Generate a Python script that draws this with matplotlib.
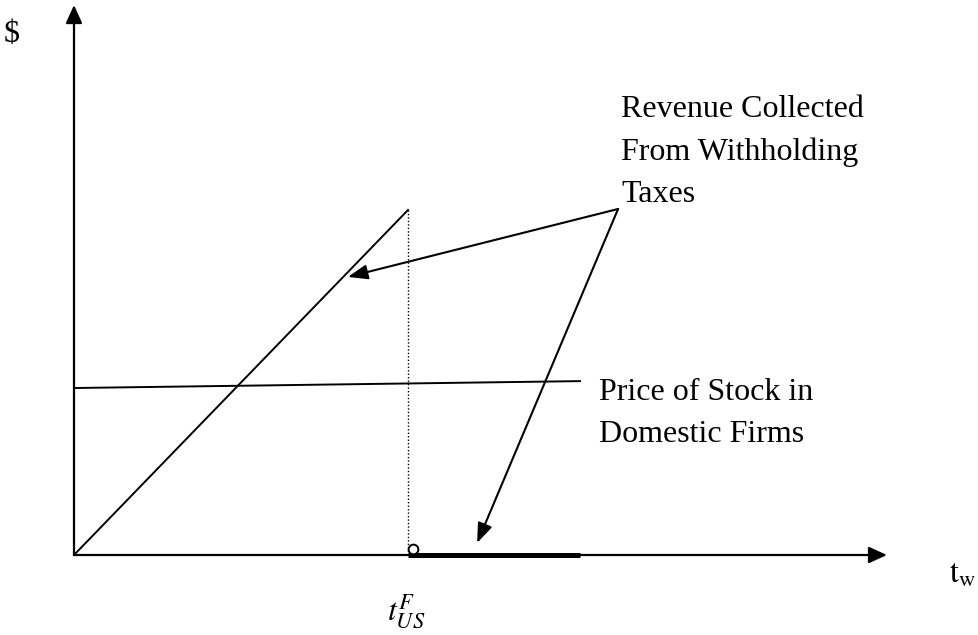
import matplotlib.pyplot as plt

# data units: t_US^F = 1 on x, top of revenue line = 1 on y
t_us = 1.0
rev_x = [0.0, t_us]
rev_y = [0.0, 1.0]
price_x = [0.0, 1.515]
price_y = [0.484, 0.504]
thick_x = [t_us, 1.515]
x_end = 2.434
y_end = 1.594
note_from = (1.629, 1.003)
note_tips = [(0.820, 0.806), (1.207, 0.035)]
rev_lines = ["Revenue Collected", "From Withholding", "Taxes"]
rev_ys = [1.270, 1.145, 1.023]
price_lines = ["Price of Stock in", "Domestic Firms"]
price_ys = [0.449, 0.328]

plt.rcParams['font.family'] = ['Liberation Serif', 'DejaVu Serif']
plt.rcParams['mathtext.fontset'] = 'stix'

fig = plt.figure(figsize=(9.79, 6.35), dpi=100)
ax = fig.add_axes([0, 0, 1, 1])
ax.set_xlim(-74 / 334, (979 - 74) / 334)
ax.set_ylim(-(635 - 555) / 345, 555 / 345)
ax.axis('off')

# axes with arrow heads
head = '-|>,head_length=1.1,head_width=0.5'
ax.annotate('', xy=(x_end, 0), xytext=(0, 0),
            arrowprops=dict(arrowstyle=head, lw=1.6, color='black', shrinkA=0, shrinkB=0))
ax.annotate('', xy=(0, y_end), xytext=(0, 0),
            arrowprops=dict(arrowstyle=head, lw=1.6, color='black', shrinkA=0, shrinkB=0))

ax.plot(rev_x, rev_y, color='black', lw=1.4)
ax.plot([t_us, t_us], [0, rev_y[1]], color='black', lw=1.0, ls=(0, (1, 1.5)))
ax.plot(price_x, price_y, color='black', lw=1.4)
ax.plot(thick_x, [0, 0], color='black', lw=3.6, solid_capstyle='butt')
ax.plot([t_us + 0.015], [0.017], marker='o', ms=7, mfc='white', mec='black', mew=1.4)

for tip in note_tips:
    ax.annotate('', xy=tip, xytext=note_from,
                arrowprops=dict(arrowstyle='-|>,head_length=1.2,head_width=0.45', lw=1.5,
                                color='black', shrinkA=0, shrinkB=0))

for s, y in zip(rev_lines, rev_ys):
    ax.text(1.638, y, s, fontsize=23, va='baseline', ha='left')
for s, y in zip(price_lines, price_ys):
    ax.text(1.572, y, s, fontsize=23, va='baseline', ha='left')

ax.text(-0.212, 1.487, '$', fontsize=23, va='baseline', ha='left')
ax.text(2.620, -0.081, r'$\mathrm{t}_{\mathrm{w}}$', fontsize=23, va='baseline', ha='left')
ax.text(0.994, -0.188, r'$t_{US}^{F}$', fontsize=23, va='baseline', ha='center')

fig.savefig('out.png', dpi=100)
